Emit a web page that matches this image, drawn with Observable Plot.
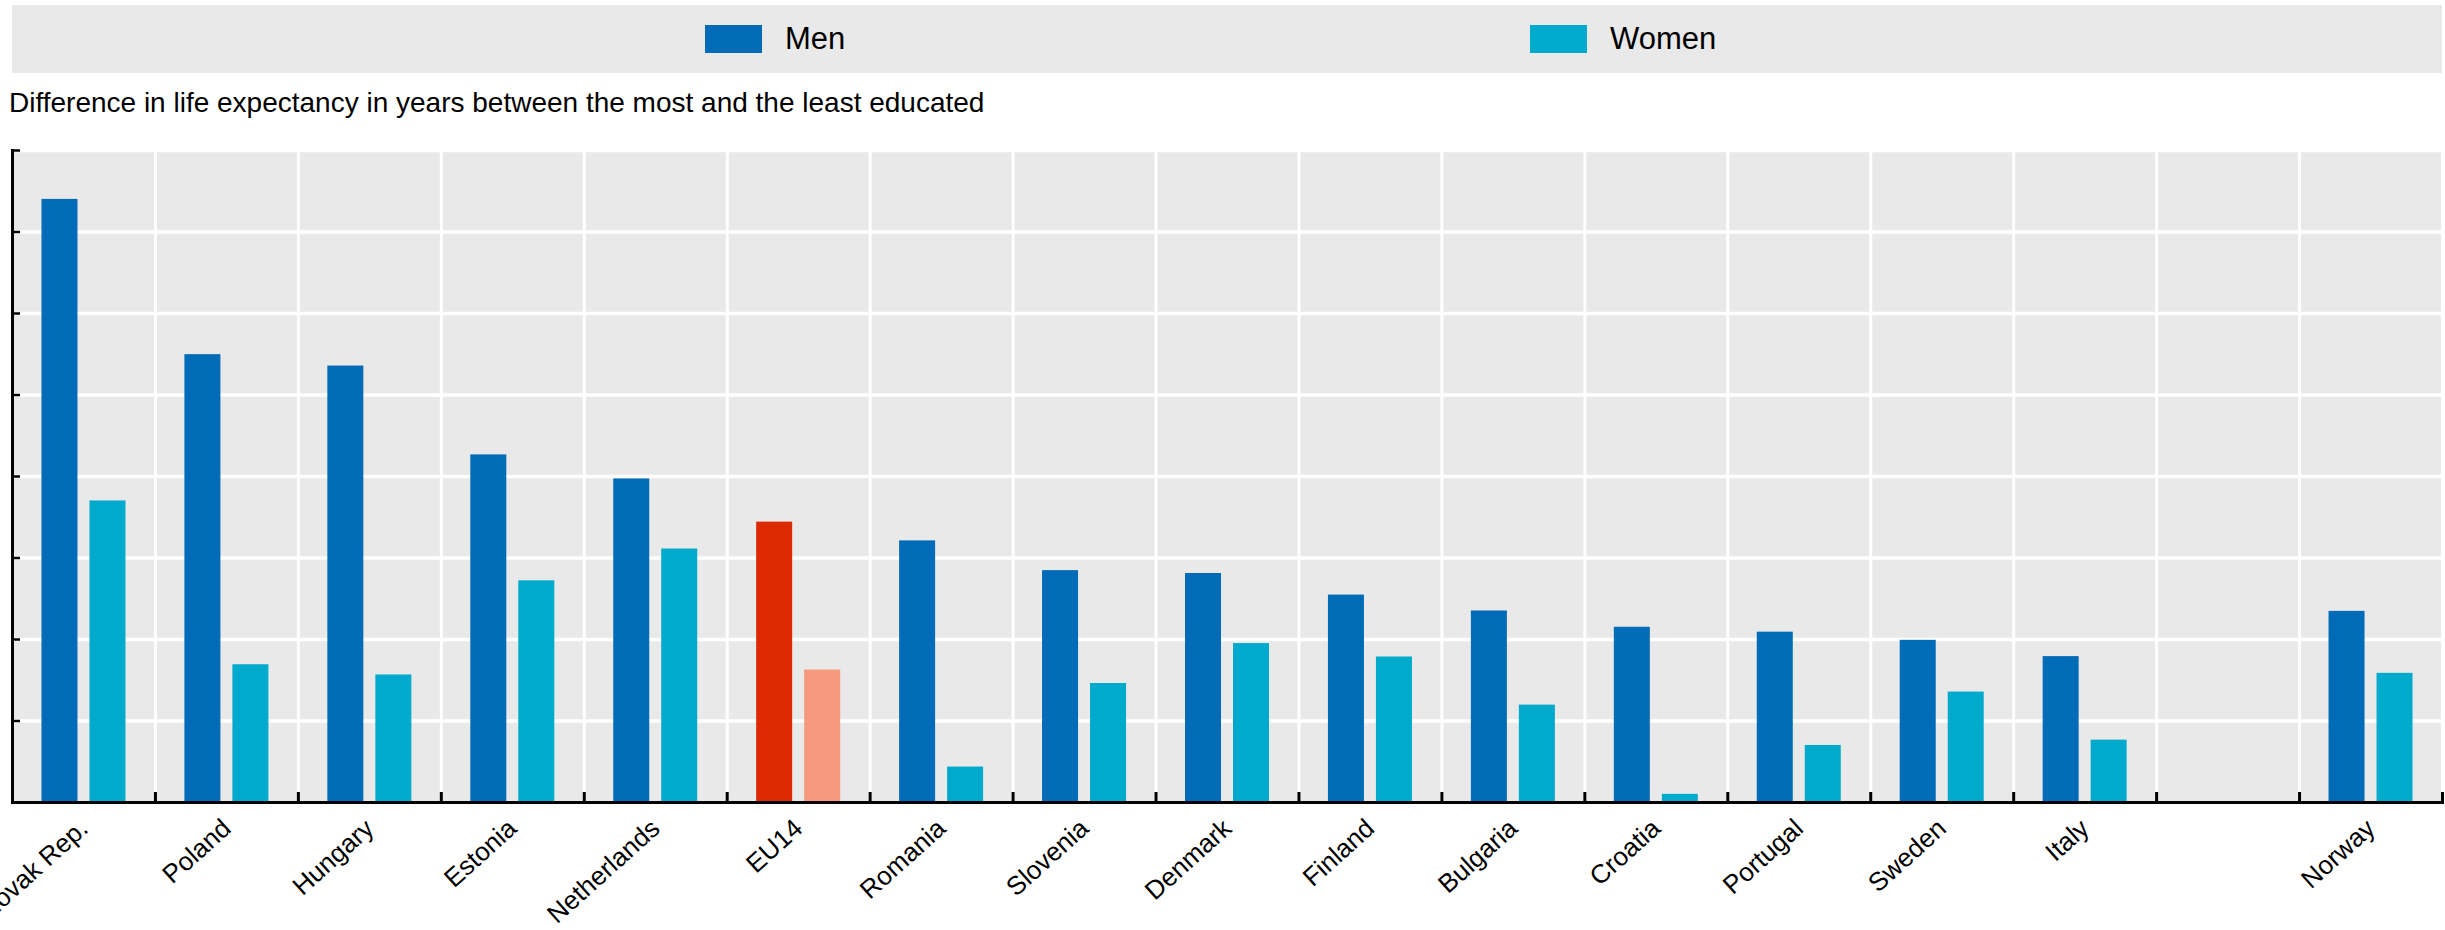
<!DOCTYPE html>
<html>
<head>
<meta charset="utf-8">
<script src="https://cdn.jsdelivr.net/npm/d3@7"></script>
<script src="https://cdn.jsdelivr.net/npm/@observablehq/plot@0.6"></script>
<style>
  html, body { margin: 0; padding: 0; background: #ffffff; }
  body { width: 2445px; height: 930px; position: relative; overflow: hidden;
         font-family: "Liberation Sans", Arial, sans-serif; color: #000; }
  #legend { position: absolute; left: 12px; top: 5px; width: 2430px; height: 68px; background: #e9e9e9; }
  .item { position: absolute; top: 0; height: 68px; display: flex; align-items: center; font-size: 31px; }
  .sw { width: 57px; height: 28px; margin-right: 23px; }
  #subtitle { position: absolute; left: 9px; top: 86px; font-size: 28px; line-height: 34px; white-space: nowrap; }
  #chart { position: absolute; left: 0; top: 130px; }
</style>
</head>
<body>
<div id="legend"></div>
<div id="subtitle">Difference in life expectancy in years between the most and the least educated</div>
<div id="chart"></div>
<script>
// ---- data ----
const countries = ["Slovak Rep.", "Poland", "Hungary", "Estonia", "Netherlands", "EU14", "Romania", "Slovenia", "Denmark", "Finland", "Bulgaria", "Croatia", "Portugal", "Sweden", "Italy", " ", "Norway"];
const men   = [14.80, 10.99, 10.71, 8.53, 7.94, 6.88, 6.42, 5.69, 5.62, 5.09, 4.70, 4.30, 4.18, 3.98, 3.58, null, 4.69];
const women = [7.40, 3.38, 3.13, 5.44, 6.22, 3.25, 0.87, 2.92, 3.90, 3.57, 2.39, 0.20, 1.40, 2.71, 1.53, null, 3.17];
const series = ["Men", "Women"];
const highlight = "EU14";
const yTicks = [0, 2, 4, 6, 8, 10, 12, 14, 16];
const colorKeys = ["Men", "Women", "EU14 Men", "EU14 Women"];
const colorRange = ["#006bb6", "#00aacc", "#dc2a00", "#f4997b"];
const fontStack = '"Liberation Sans", Arial, sans-serif';

// legend
const legend = document.getElementById("legend");
[["Men", colorRange[0], 693], ["Women", colorRange[1], 1518]].forEach(([name, col, left]) => {
  const it = document.createElement("div");
  it.className = "item";
  it.style.left = left + "px";
  it.innerHTML = `<div class="sw" style="background:${col}"></div><span>${name}</span>`;
  legend.appendChild(it);
});

// tidy rows
const rows = [];
countries.forEach((c, i) => {
  rows.push({country: c, sex: series[0], value: men[i]});
  rows.push({country: c, sex: series[1], value: women[i]});
});

const chart = Plot.plot({
  width: 2445,
  height: 800,
  marginTop: 20,
  marginBottom: 128,
  marginLeft: 12,
  marginRight: 3,
  style: {fontFamily: fontStack, background: "white", color: "black"},
  fx: {domain: countries, padding: 0, round: false, label: null},
  x: {domain: series, axis: null, round: false, paddingInner: 0.25, paddingOuter: 0.614},
  y: {domain: [0, 16], axis: null},
  color: {domain: colorKeys, range: colorRange},
  marks: [
    Plot.frame({fill: "#e9e9e9", stroke: "none", insetLeft: 1.5, insetRight: 1.5}),
    Plot.ruleY(yTicks.slice(1), {stroke: "white", strokeWidth: 3.5}),
    Plot.barY(rows, {
      fx: "country", x: "sex", y: "value",
      fill: d => (d.country === highlight ? highlight + " " : "") + d.sex
    }),
    Plot.ruleY([0], {stroke: "black", strokeWidth: 3}),
    Plot.axisY(yTicks, {tickSize: -8, tickFormat: () => "", label: null, strokeWidth: 2.5}),
    Plot.frame({anchor: "left", facetAnchor: "left", stroke: "black", strokeWidth: 3}),
    Plot.frame({anchor: "left", stroke: "black", strokeWidth: 3, insetTop: 643}),
    Plot.frame({anchor: "right", facetAnchor: "right", stroke: "black", strokeWidth: 3, insetTop: 643}),
    Plot.axisFx({anchor: "bottom", tickRotate: -42, tickSize: 0, tickPadding: 22, fontSize: 26, label: null})
  ]
});
document.getElementById("chart").appendChild(chart);
</script>
</body>
</html>
